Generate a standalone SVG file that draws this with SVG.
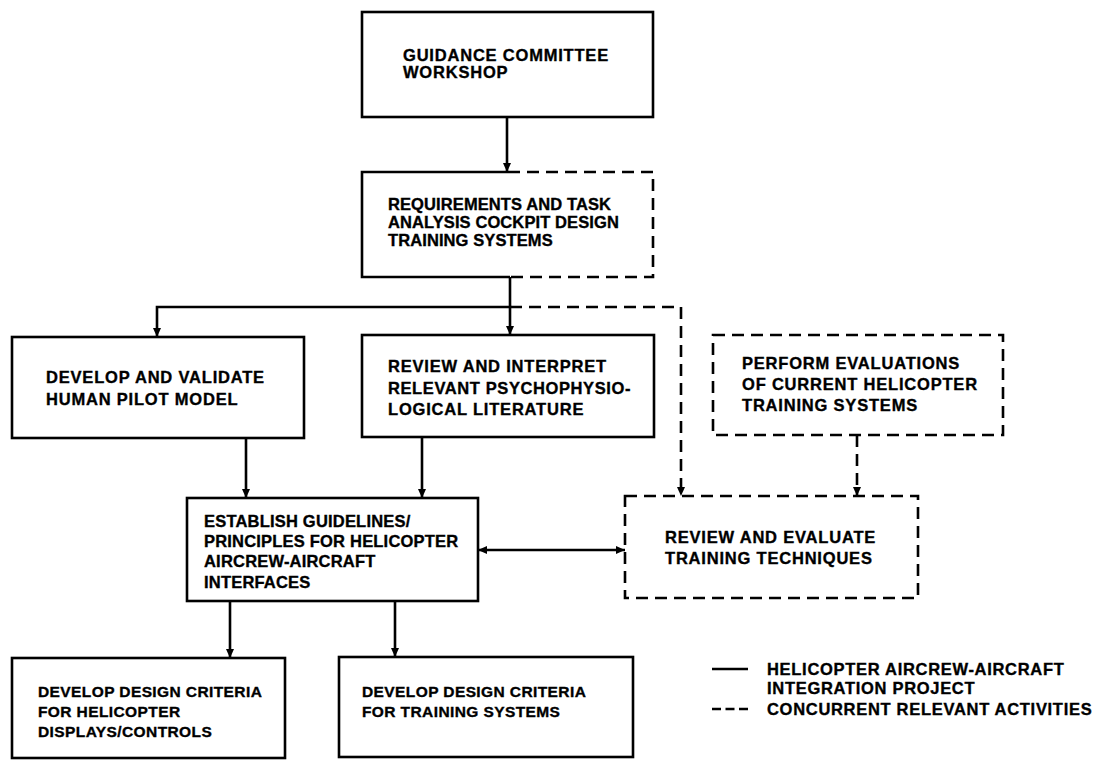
<svg xmlns="http://www.w3.org/2000/svg" width="1106" height="760" viewBox="0 0 1106 760">
<style>
  .box{fill:none;stroke:#000;stroke-width:2.6}
  .dash{fill:none;stroke:#000;stroke-width:2.6;stroke-dasharray:12 7}
  .ln{fill:none;stroke:#000;stroke-width:2.6}
  text{font-family:"Liberation Sans",Arial,Helvetica,sans-serif;font-weight:bold;font-size:16.5px;letter-spacing:0.8px;fill:#000;stroke:#000;stroke-width:0.35}
  .nar{font-size:15.5px;letter-spacing:0.4px}
  .leg{letter-spacing:0.7px}
  .t0{letter-spacing:0.1px}
  .t2{letter-spacing:0.2px}
  .t6{letter-spacing:0.6px}
</style>
<defs>
  <marker id="ah" markerUnits="userSpaceOnUse" markerWidth="10" markerHeight="10" refX="9" refY="4" orient="auto-start-reverse">
    <path d="M0,0 L9,4 L0,8 z" fill="#000"/>
  </marker>
</defs>
<rect width="1106" height="760" fill="#fff"/>

<g id="connectors">
  <line class="ln" x1="507" y1="117" x2="507" y2="172" marker-end="url(#ah)"/>
  <polyline class="ln" points="510,277 510,307"/>
  <polyline class="ln" points="157,337 157,307 510,307 510,335" marker-start="url(#ah)" marker-end="url(#ah)"/>
  <polyline class="dash" points="510,307 681,307 681,496" marker-end="url(#ah)"/>
  <line class="dash" x1="857" y1="435" x2="857" y2="496" marker-end="url(#ah)"/>
  <line class="ln" x1="246" y1="437" x2="246" y2="498" marker-end="url(#ah)"/>
  <line class="ln" x1="422" y1="437" x2="422" y2="498" marker-end="url(#ah)"/>
  <line class="ln" x1="478" y1="550" x2="625" y2="550" marker-start="url(#ah)" marker-end="url(#ah)"/>
  <line class="ln" x1="230" y1="601" x2="230" y2="658" marker-end="url(#ah)"/>
  <line class="ln" x1="395" y1="601" x2="395" y2="657" marker-end="url(#ah)"/>
</g>

<g id="guidance">
  <rect class="box" x="362" y="12" width="291" height="105"/>
  <text x="403" y="61">GUIDANCE COMMITTEE</text>
  <text x="403" y="78">WORKSHOP</text>
</g>

<g id="requirements">
  <path class="box" d="M508,172 H362 V277 H510"/>
  <path class="dash" d="M508,172 H653 V277 H510"/>
  <text class="t0" x="388" y="210">REQUIREMENTS AND TASK</text>
  <text class="t0" x="388" y="228">ANALYSIS COCKPIT DESIGN</text>
  <text class="t0" x="388" y="246">TRAINING SYSTEMS</text>
</g>

<g id="pilot-model">
  <rect class="box" x="12" y="337" width="292" height="101"/>
  <text x="46" y="383">DEVELOP AND VALIDATE</text>
  <text x="46" y="405">HUMAN PILOT MODEL</text>
</g>

<g id="literature">
  <rect class="box" x="362" y="335" width="292" height="102"/>
  <text x="388" y="372">REVIEW AND INTERPRET</text>
  <text class="t6" x="388" y="393.5">RELEVANT PSYCHOPHYSIO-</text>
  <text x="388" y="415">LOGICAL LITERATURE</text>
</g>

<g id="evaluations">
  <rect class="dash" x="713" y="335" width="290" height="100"/>
  <text x="742" y="369">PERFORM EVALUATIONS</text>
  <text x="742" y="390">OF CURRENT HELICOPTER</text>
  <text x="742" y="411">TRAINING SYSTEMS</text>
</g>

<g id="techniques">
  <rect class="dash" x="625" y="496" width="293" height="102"/>
  <text x="665" y="543">REVIEW AND EVALUATE</text>
  <text x="665" y="564">TRAINING TECHNIQUES</text>
</g>

<g id="guidelines">
  <rect class="box" x="187" y="498" width="291" height="103"/>
  <text class="t2" x="204" y="527">ESTABLISH GUIDELINES/</text>
  <text class="t2" x="204" y="547">PRINCIPLES FOR HELICOPTER</text>
  <text class="t2" x="204" y="567">AIRCREW-AIRCRAFT</text>
  <text class="t2" x="204" y="588">INTERFACES</text>
</g>

<g id="displays">
  <rect class="box" x="12" y="658" width="273" height="100"/>
  <text class="nar" x="38" y="697">DEVELOP DESIGN CRITERIA</text>
  <text class="nar" x="38" y="717">FOR HELICOPTER</text>
  <text class="nar" x="38" y="737">DISPLAYS/CONTROLS</text>
</g>

<g id="training-criteria">
  <rect class="box" x="339" y="657" width="294" height="100"/>
  <text class="nar" x="362" y="697">DEVELOP DESIGN CRITERIA</text>
  <text class="nar" x="362" y="717">FOR TRAINING SYSTEMS</text>
</g>

<g id="legend">
  <line class="ln" x1="712" y1="669" x2="748" y2="669"/>
  <text class="leg" x="767" y="675">HELICOPTER AIRCREW-AIRCRAFT</text>
  <text class="leg" x="767" y="694">INTEGRATION PROJECT</text>
  <line class="ln" x1="712" y1="709" x2="748" y2="709" stroke-dasharray="9 4.5"/>
  <text class="leg" x="767" y="715">CONCURRENT RELEVANT ACTIVITIES</text>
</g>
</svg>
